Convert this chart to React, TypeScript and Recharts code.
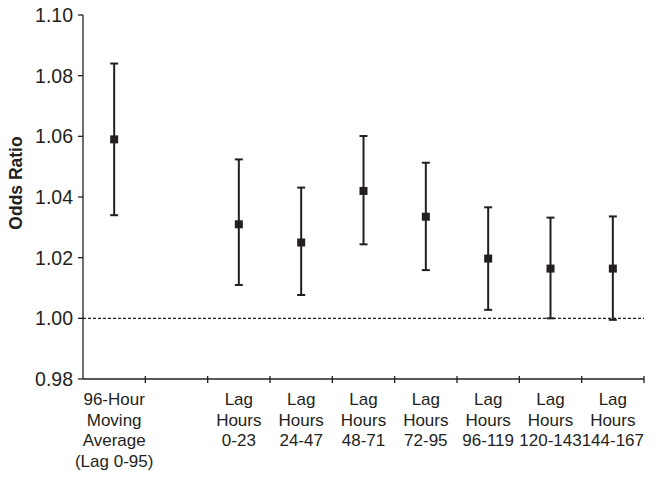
import React from 'react';
import { ComposedChart, Line, XAxis, YAxis, ErrorBar, ReferenceLine } from 'recharts';

const categories = [
  '96-Hour\nMoving\nAverage\n(Lag 0-95)',
  '',
  'Lag\nHours\n0-23',
  'Lag\nHours\n24-47',
  'Lag\nHours\n48-71',
  'Lag\nHours\n72-95',
  'Lag\nHours\n96-119',
  'Lag\nHours\n120-143',
  'Lag\nHours\n144-167',
];
const oddsRatio = [1.059, null, 1.031, 1.025, 1.042, 1.0335, 1.0197, 1.0164, 1.0164];
const lowerCI = [1.034, null, 1.011, 1.0077, 1.0244, 1.0159, 1.0028, 1.0, 0.9995];
const upperCI = [1.084, null, 1.0524, 1.0431, 1.0601, 1.0513, 1.0366, 1.0332, 1.0336];
const yTicks = [0.98, 1.0, 1.02, 1.04, 1.06, 1.08, 1.1];

const data = categories.map((name, i) => ({
  name,
  or: oddsRatio[i],
  err: oddsRatio[i] == null ? null : [oddsRatio[i]! - lowerCI[i]!, upperCI[i]! - oddsRatio[i]!],
}));

const W = 660;
const H = 477;
const MARGIN = { top: 15, right: 16, bottom: 0, left: 0 };
const YAXIS_W = 83;
const XAXIS_H = 98;
const HALF_BAND = (W - MARGIN.left - MARGIN.right - YAXIS_W) / categories.length / 2;
const FONT = '"Liberation Sans", Arial, Helvetica, sans-serif';
const INK = '#231f20';

function CategoryTick(props: any) {
  const { x, y, payload } = props;
  const lines = String(payload.value).split('\n').filter(Boolean);
  return (
    <g>
      <line x1={x + HALF_BAND} x2={x + HALF_BAND} y1={y - 3} y2={y + 4} stroke={INK} strokeWidth={1.3} />
      <text x={x} textAnchor="middle" fontSize={17} fontFamily={FONT} fill={INK}>
        {lines.map((l, i) => (
          <tspan key={i} x={x} y={y + 26 + i * 20.5}>
            {l}
          </tspan>
        ))}
      </text>
    </g>
  );
}

function SquareDot(props: any) {
  const { cx, cy, value } = props;
  if (value == null || cx == null || cy == null) return <g />;
  return <rect x={cx - 4} y={cy - 4} width={8} height={8} fill={INK} />;
}

export default function App() {
  return (
    <div style={{ position: 'absolute', left: 0, top: 0 }}>
      <ComposedChart width={W} height={H} data={data} margin={MARGIN}>
        <XAxis
          dataKey="name"
          scale="band"
          height={XAXIS_H}
          interval={0}
          tickSize={0}
          tickMargin={0}
          tickLine={false}
          axisLine={{ stroke: INK, strokeWidth: 1.3 }}
          tick={<CategoryTick />}
        />
        <YAxis
          width={YAXIS_W}
          domain={[0.98, 1.1]}
          ticks={yTicks}
          tickFormatter={(v: number) => v.toFixed(2)}
          tickSize={5}
          tickMargin={5}
          axisLine={{ stroke: INK, strokeWidth: 1.3 }}
          tickLine={{ stroke: INK, strokeWidth: 1.3 }}
          tick={{ fontSize: 19.5, fontFamily: FONT, fill: INK }}
          label={{
            content: (p: any) => {
              const vb = p.viewBox || { x: 0, y: 15, width: 83, height: 364 };
              const cx = vb.x + 16;
              const cy = vb.y + vb.height / 2 - 14;
              return (
                <text
                  x={cx}
                  y={cy}
                  transform={`rotate(-90 ${cx} ${cy})`}
                  textAnchor="middle"
                  dominantBaseline="central"
                  fontSize={17.5}
                  fontWeight="bold"
                  fontFamily={FONT}
                  fill={INK}
                >
                  Odds Ratio
                </text>
              );
            },
          }}
        />
        <ReferenceLine y={1} stroke={INK} strokeWidth={1.3} strokeDasharray="3 2" />
        <Line
          dataKey="or"
          stroke="none"
          dot={<SquareDot />}
          activeDot={false}
          isAnimationActive={false}
        >
          <ErrorBar dataKey="err" width={4} stroke={INK} strokeWidth={2} direction="y" isAnimationActive={false} />
        </Line>
      </ComposedChart>
    </div>
  );
}
